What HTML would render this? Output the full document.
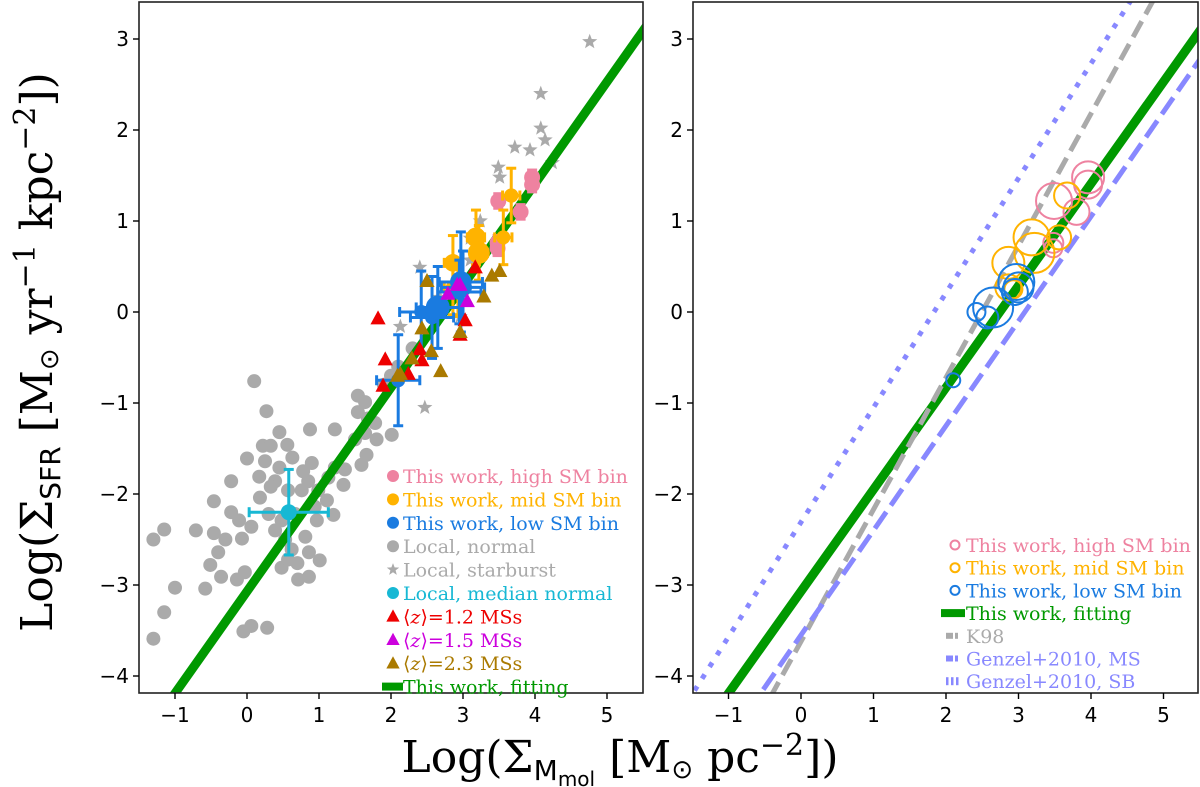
<!DOCTYPE html>
<html><head><meta charset="utf-8"><style>
html,body{margin:0;background:#fff;width:1200px;height:787px;overflow:hidden}
svg{display:block}
</style></head><body>
<svg id="c" width="1200" height="787" xmlns="http://www.w3.org/2000/svg" font-family="DejaVu Sans, Liberation Sans, sans-serif"></svg>
<script>
const ticksX=[-1,0,1,2,3,4,5];
const ticksY=[-4,-3,-2,-1,0,1,2,3];
const fitLine=[1.12,-3.07];
const k98Line=[1.45,-3.62];
const genzelMS=[1.15,-3.55];
const genzelSB=[1.26,-2.31];
const localX=[0.10,0.27,0.45,0.875,1.22,0.22,0.33,0.56,0.0,0.25,0.63,0.45,0.17,0.39,0.33,-0.22,-0.46,0.18,-0.22,-0.11,0.06,-0.46,-0.71,-1.15,-1.30,-0.30,-0.07,-0.40,-0.51,-0.36,-0.14,-0.03,-1.0,-0.58,-1.15,-1.30,-0.05,0.06,0.28,0.48,0.57,0.70,0.71,0.86,0.86,1.01,0.81,0.97,1.20,1.34,1.36,0.90,0.78,0.85,0.99,1.11,0.94,0.76,0.57,0.67,0.48,0.39,0.30,1.59,1.66,1.64,2.01,1.54,1.68,1.54,1.64,1.78,1.22,1.13,0.53,0.62,1.9,2.1,2.3,2.0,1.5,1.8];
const localY=[-0.76,-1.09,-1.32,-1.29,-1.29,-1.47,-1.47,-1.46,-1.61,-1.64,-1.60,-1.71,-1.81,-1.86,-1.92,-1.86,-2.08,-2.04,-2.20,-2.29,-2.36,-2.43,-2.40,-2.39,-2.50,-2.50,-2.49,-2.64,-2.78,-2.91,-2.94,-2.86,-3.03,-3.04,-3.30,-3.59,-3.51,-3.45,-3.47,-2.81,-2.72,-2.76,-2.94,-2.91,-2.64,-2.73,-2.47,-2.29,-2.23,-1.90,-1.73,-1.66,-1.75,-1.86,-1.96,-2.07,-2.14,-1.96,-1.96,-2.22,-2.29,-2.40,-2.22,-1.68,-1.57,-1.33,-1.35,-1.10,-1.17,-0.92,-0.99,-1.22,-1.71,-1.82,-2.50,-2.61,-0.8,-0.6,-0.4,-0.7,-1.4,-1.4];
const starX=[4.76,4.08,4.08,4.14,3.72,3.93,3.51,3.49,3.24,3.10,4.24,2.40,2.68,2.96,2.13,2.47,3.10];
const starY=[2.97,2.40,2.02,1.89,1.81,1.78,1.48,1.59,1.0,0.81,1.64,0.49,0.16,-0.05,-0.16,-1.05,0.57];
const medianXY=[0.58,-2.2];const medianErr=[0.55,0.47];
const redX=[1.82,3.17,3.03,2.96,1.92,2.40,2.43,2.24,1.89];
const redY=[-0.07,0.49,-0.09,-0.25,-0.52,-0.41,-0.53,-0.68,-0.81];
const magX=[2.96,2.79,3.06,2.92];
const magY=[0.30,0.20,0.12,0.30];
const oliveX=[3.51,3.40,3.29,2.50,2.43,2.96,2.56,2.29,2.69,2.13,2.09];
const oliveY=[0.45,0.40,0.17,0.34,-0.18,-0.22,-0.43,-0.51,-0.65,-0.68,-0.70];
const lowX=[2.10,2.42,2.57,2.65,2.97,3.0,2.95];
const lowY=[-0.75,0.0,-0.06,0.05,0.33,0.27,0.22];
const lowR=[7,9,11,20,18,15,13];
const lowErrY=[0.5,0.45,0.45,0.45,0.55,0.4,0.35];
const midX=[2.86,3.18,3.22,3.56,3.67,2.93,2.86];
const midY=[0.54,0.82,0.65,0.82,1.28,0.25,0.27];
const midR=[16,18,20,12,13,9,13];
const highX=[3.96,3.96,3.49,3.80,3.48,3.48];
const highY=[1.48,1.40,1.22,1.10,0.76,0.70];
const highR=[16,14,18,13,10,9];

const S=document.getElementById('c');const NS='http://www.w3.org/2000/svg';
function mk(t,a,p){const e=document.createElementNS(NS,t);for(const k in a)e.setAttribute(k,a[k]);(p||S).appendChild(e);return e;}
const Y0=312,YU=91;
const sy=v=>Y0-v*YU;
const P1={l:139,r:643,x0:247,u:72,xmin:-1.5,xmax:5.5};
const P2={l:693,r:1198,x0:801,u:72.5,xmin:-1.5,xmax:5.5};
const sx=(P,v)=>P.x0+v*P.u;
const TOP=2,BOT=693;
function clipFor(P,id){const d=mk('clipPath',{id:id});mk('rect',{x:P.l,y:TOP,width:P.r-P.l,height:BOT-TOP},d);}
clipFor(P1,'c1');clipFor(P2,'c2');
function line(P,g,co,stroke,w,dash,name){
  const e=mk('line',{x1:sx(P,P.xmin-1),y1:sy(co[0]*(P.xmin-1)+co[1]),x2:sx(P,P.xmax+1),y2:sy(co[0]*(P.xmax+1)+co[1]),stroke:stroke,'stroke-width':w,'stroke-dasharray':dash||'none'},g);
  
  
}
function tri(g,x,y,c,s){return mk('polygon',{points:`${x},${y-s} ${x-s*0.95},${y+s*0.75} ${x+s*0.95},${y+s*0.75}`,fill:c},g);}
function star(g,x,y,c,r){let p=[];for(let i=0;i<10;i++){const a=-Math.PI/2+i*Math.PI/5;const rr=i%2?r*0.42:r;p.push((x+rr*Math.cos(a)).toFixed(1)+','+(y+rr*Math.sin(a)).toFixed(1));}return mk('polygon',{points:p.join(' '),fill:c},g);}
function errbar(g,x,y,ex,ey,c,P){
  const x1=sx(P,x-ex),x2=sx(P,x+ex),yy=sy(y),xx=sx(P,x),y1=sy(y+ey),y2=sy(y-ey);
  mk('line',{x1:x1,y1:yy,x2:x2,y2:yy,stroke:c,'stroke-width':3},g);
  mk('line',{x1:xx,y1:y1,x2:xx,y2:y2,stroke:c,'stroke-width':3},g);
  [[x1,yy-5,x1,yy+5],[x2,yy-5,x2,yy+5],[xx-5,y1,xx+5,y1],[xx-5,y2,xx+5,y2]].forEach(a=>mk('line',{x1:a[0],y1:a[1],x2:a[2],y2:a[3],stroke:c,'stroke-width':3},g));
}
function axes(P,name){
  const g=mk('g',{});
  mk('rect',{x:P.l,y:TOP,width:P.r-P.l,height:BOT-TOP,fill:'none',stroke:'#222','stroke-width':1.6},g);
  ticksX.forEach(t=>{const x=sx(P,t);if(x<P.l||x>P.r)return;mk('line',{x1:x,y1:BOT,x2:x,y2:BOT+6,stroke:'#000','stroke-width':1.4},g);
    const tx=mk('text',{x:x,y:BOT+29,'text-anchor':'middle','font-size':20},g);tx.textContent=(t<0?'\u2212':'')+Math.abs(t);
    });
  ticksY.forEach(t=>{const y=sy(t);mk('line',{x1:P.l-6,y1:y,x2:P.l,y2:y,stroke:'#000','stroke-width':1.4},g);
    const tx=mk('text',{x:P.l-10,y:y+7,'text-anchor':'end','font-size':20},g);tx.textContent=(t<0?'\u2212':'')+Math.abs(t);
    });
}
// LEFT PANEL
const g1=mk('g',{'clip-path':'url(#c1)'});
localX.forEach((x,i)=>{const e=mk('circle',{cx:sx(P1,x),cy:sy(localY[i]),r:7,fill:'#aaaaaa'},g1);});
starX.forEach((x,i)=>{const e=star(g1,sx(P1,x),sy(starY[i]),'#aaaaaa',8);});
line(P1,g1,fitLine,'#009900',9,null,'fit-line-left');
errbar(g1,medianXY[0],medianXY[1],medianErr[0],medianErr[1],'#17b8d4',P1);
{const e=mk('circle',{cx:sx(P1,medianXY[0]),cy:sy(medianXY[1]),r:8,fill:'#17b8d4'},g1);}
highX.forEach((x,i)=>{errbar(g1,x,highY[i],0.07,0.08,'#ee82a0',P1);const e=mk('circle',{cx:sx(P1,x),cy:sy(highY[i]),r:8,fill:'#ee82a0'},g1);});
midX.forEach((x,i)=>{errbar(g1,x,midY[i],0.12,0.3,'#ffb300',P1);const e=mk('circle',{cx:sx(P1,x),cy:sy(midY[i]),r:Math.max(7,midR[i]*0.55),fill:'#ffb300'},g1);});
lowX.forEach((x,i)=>{errbar(g1,x,lowY[i],0.3,lowErrY[i],'#1a7be0',P1);const e=mk('circle',{cx:sx(P1,x),cy:sy(lowY[i]),r:Math.max(7,lowR[i]*0.6),fill:'#1a7be0'},g1);});
redX.forEach((x,i)=>{const e=tri(g1,sx(P1,x),sy(redY[i]),'#ee0000',8);});
magX.forEach((x,i)=>{const e=tri(g1,sx(P1,x),sy(magY[i]),'#cc00dd',8);});
oliveX.forEach((x,i)=>{const e=tri(g1,sx(P1,x),sy(oliveY[i]),'#aa7a00',8);});
axes(P1,'left');
// RIGHT PANEL
const g2=mk('g',{'clip-path':'url(#c2)'});
line(P2,g2,genzelSB,'#8888ff',5,'5 9','genzel-sb-line');
line(P2,g2,fitLine,'#009900',9,null,'fit-line-right');
line(P2,g2,k98Line,'#aaaaaa',5,'18 8','k98-line');
line(P2,g2,genzelMS,'#8888ff',5,'20 8','genzel-ms-line');
function rings(X,Y,R,c,n){X.forEach((x,i)=>{const e=mk('circle',{cx:sx(P2,x),cy:sy(Y[i]),r:R[i],fill:'none',stroke:c,'stroke-width':2},g2);});}
rings(highX,highY,highR,'#ee82a0','high-sm-ring');
rings(midX,midY,midR,'#ffb300','mid-sm-ring');
rings(lowX,lowY,lowR,'#1a7be0','low-sm-ring');
axes(P2,'right');
// LEGENDS
function legText(x,y,txt,c,name){const t=mk('text',{x:x,y:y,fill:c,'font-size':19,'font-family':'DejaVu Serif, Liberation Serif, serif'});t.innerHTML=txt;return t;}
const L1=[['c','#ee82a0','This work, high SM bin'],['c','#ffb300','This work, mid SM bin'],['c','#1a7be0','This work, low SM bin'],['c','#aaaaaa','Local, normal'],['s','#aaaaaa','Local, starburst'],['c','#17b8d4','Local, median normal'],['t','#ee0000','⟨<tspan font-style="italic">z</tspan>⟩=1.2 MSs'],['t','#cc00dd','⟨<tspan font-style="italic">z</tspan>⟩=1.5 MSs'],['t','#aa7a00','⟨<tspan font-style="italic">z</tspan>⟩=2.3 MSs'],['l','#009900','This work, fitting']];
L1.forEach((it,i)=>{const y=476+i*23.4,x=393;
  if(it[0]=='c')mk('circle',{cx:x,cy:y,r:6,fill:it[1]});
  if(it[0]=='s')star(S,x,y,it[1],6.5);
  if(it[0]=='t')tri(S,x,y,it[1],7);
  if(it[0]=='l')mk('rect',{x:x-11,y:y-4,width:21,height:8,fill:it[1]});
  legText(x+10,y+7,it[2],it[1],'legend-entry');});
const L2=[['o','#ee82a0','This work, high SM bin'],['o','#ffb300','This work, mid SM bin'],['o','#1a7be0','This work, low SM bin'],['l','#009900','This work, fitting'],['d','#aaaaaa','K98'],['d','#8888ff','Genzel+2010, MS'],['p','#8888ff','Genzel+2010, SB']];
L2.forEach((it,i)=>{const y=545+i*22.7,x=955;
  if(it[0]=='o')mk('circle',{cx:x,cy:y,r:4.5,fill:'none',stroke:it[1],'stroke-width':2});
  if(it[0]=='l')mk('rect',{x:x-14,y:y-4,width:24,height:8,fill:it[1]});
  if(it[0]=='d'){mk('rect',{x:x-9,y:y-3,width:7,height:6,fill:it[1]});mk('rect',{x:x,y:y-3,width:3,height:6,fill:it[1]});}
  if(it[0]=='p'){for(let k=0;k<3;k++)mk('rect',{x:x-9+k*5,y:y-4,width:2.5,height:8,fill:it[1]});}
  legText(x+11,y+7,it[2],it[1],'legend-entry');});
// AXIS TITLES
const xt=mk('text',{x:620,y:772,'text-anchor':'middle','font-size':44,'font-family':'DejaVu Serif, Liberation Serif, serif'});
xt.innerHTML='Log(Σ<tspan font-family="DejaVu Sans, sans-serif" font-size="28" dy="8">M</tspan><tspan font-family="DejaVu Sans, sans-serif" font-size="20" dy="6">mol</tspan><tspan dy="-14"> [M</tspan><tspan font-family="DejaVu Sans, sans-serif" font-size="26" dy="6">⊙</tspan><tspan dy="-6"> pc</tspan><tspan font-size="30" dy="-17">−2</tspan><tspan dy="17">])</tspan>';

const yt=mk('text',{x:0,y:0,'text-anchor':'middle','font-size':44,'font-family':'DejaVu Serif, Liberation Serif, serif',transform:'translate(52,352) rotate(-90)'});
yt.innerHTML='Log(Σ<tspan font-family="DejaVu Sans, sans-serif" font-size="28" dy="8">SFR</tspan><tspan dy="-8"> [M</tspan><tspan font-family="DejaVu Sans, sans-serif" font-size="26" dy="6">⊙</tspan><tspan dy="-6"> yr</tspan><tspan font-size="30" dy="-17">−1</tspan><tspan dy="17"> kpc</tspan><tspan font-size="30" dy="-17">−2</tspan><tspan dy="17">])</tspan>';

</script>
</body></html>
